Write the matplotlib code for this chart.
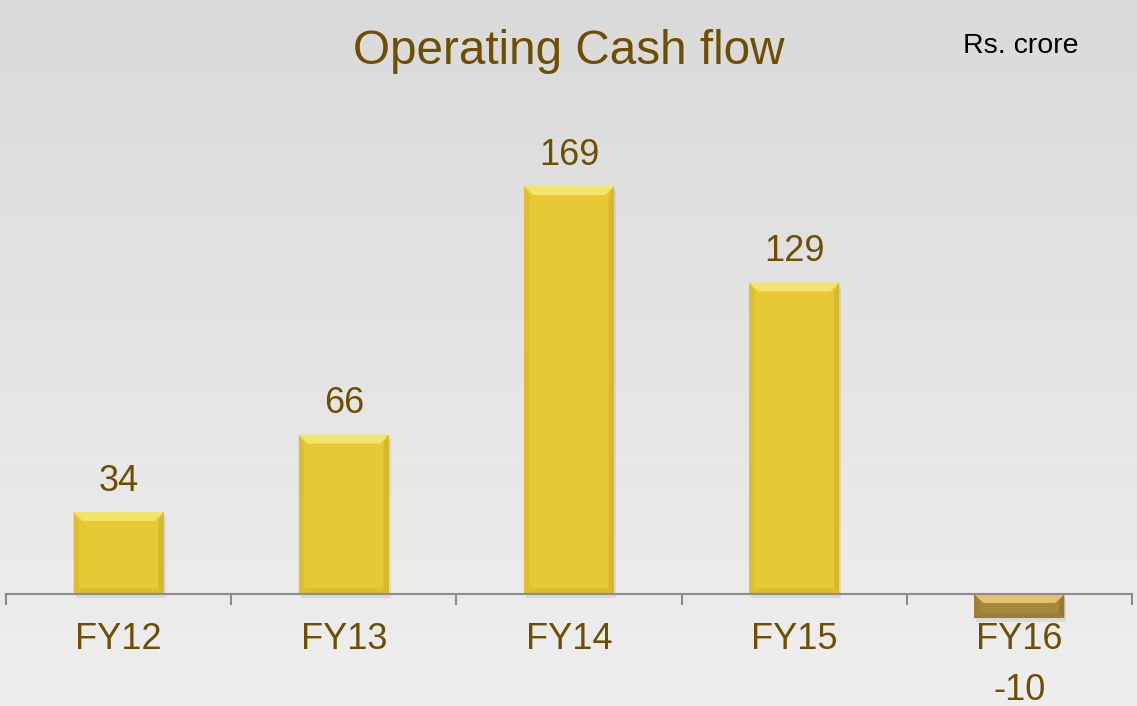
import numpy as np
import matplotlib
matplotlib.use("Agg")
import matplotlib.pyplot as plt
from matplotlib.patches import Polygon, Rectangle

categories = ["FY12", "FY13", "FY14", "FY15", "FY16"]
values = [34, 66, 169, 129, -10]
title = "Operating Cash flow"
unit = "Rs. crore"

W, H, DPI = 1137, 706, 100
fig = plt.figure(figsize=(W / DPI, H / DPI), dpi=DPI)

# background gradient
bg = fig.add_axes([0, 0, 1, 1], zorder=0)
grad = np.linspace(0, 1, 256)[:, None]
top_c = np.array([218, 218, 218]) / 255
bot_c = np.array([238, 238, 238]) / 255
img = top_c[None, None, :] * (1 - grad[:, :, None]) + bot_c[None, None, :] * grad[:, :, None]
img = np.repeat(img, 2, axis=1)
bg.imshow(img, aspect="auto", extent=[0, 1, 0, 1])
bg.axis("off")

ax_left, ax_right = 6 / W, 1132 / W
ax = fig.add_axes([ax_left, 0, ax_right - ax_left, 1], zorder=1)
ax.patch.set_alpha(0)
zero_px = 594
ppu = 408 / 169.0  # pixels per unit
ax.set_ylim(-(H - zero_px) / ppu, zero_px / ppu)
n = len(categories)
ax.set_xlim(-0.5, n - 0.5)
xpos = np.arange(n)
bw = 0.4

FONT = "Liberation Sans"
brown = "#6E4E00"

px_x = n / ((ax_right - ax_left) * W)  # data x per pixel
px_y = 1.0 / ppu

for x, v in zip(xpos, values):
    if v >= 0:
        main, light, dark, side = "#E6C935", "#F1E56E", "#C9A820", "#D4B428"
    else:
        main, light, dark, side = "#A8863C", "#E2C270", "#8A6A28", "#957532"
    x0, x1 = x - bw / 2, x + bw / 2
    yb, yt = min(0, v), max(0, v)
    # shadow
    ax.add_patch(Rectangle((x0 + 2 * px_x, yb - 4 * px_y), bw, yt - yb,
                           facecolor="black", alpha=0.07, edgecolor="none", zorder=1))
    ax.add_patch(Rectangle((x0, yb), bw, yt - yb, facecolor=main, edgecolor="none", zorder=2))
    bx, by = 9 * px_x, 9 * px_y
    # top bevel
    ax.add_patch(Polygon([(x0, yt), (x1, yt), (x1 - bx, yt - by), (x0 + bx, yt - by)],
                         closed=True, facecolor=light, edgecolor="none", zorder=3))
    # bottom bevel
    ax.add_patch(Polygon([(x0, yb), (x1, yb), (x1 - bx * 0.6, yb + by * 0.6), (x0 + bx * 0.6, yb + by * 0.6)],
                         closed=True, facecolor=dark, edgecolor="none", zorder=3, alpha=0.35))
    # side bevels
    ax.add_patch(Polygon([(x0, yb), (x0, yt), (x0 + bx * 0.6, yt - by), (x0 + bx * 0.6, yb + by * 0.6)],
                         closed=True, facecolor=side, edgecolor="none", zorder=3, alpha=0.5))
    ax.add_patch(Polygon([(x1, yb), (x1, yt), (x1 - bx * 0.6, yt - by), (x1 - bx * 0.6, yb + by * 0.6)],
                         closed=True, facecolor=side, edgecolor="none", zorder=3, alpha=0.8))
    if v >= 0:
        ax.annotate(str(v), (x, v), xytext=(0, 9.5), textcoords="offset points",
                    ha="center", va="bottom", fontsize=26, color=brown, family=FONT)
    else:
        ax.annotate(str(v), (x, v), xytext=(0, -59), textcoords="offset points",
                    ha="center", va="baseline", fontsize=26, color=brown, family=FONT)

for s in ["left", "right", "top"]:
    ax.spines[s].set_visible(False)
ax.spines["bottom"].set_position(("data", 0))
ax.spines["bottom"].set_color("#8C8C8C")
ax.spines["bottom"].set_linewidth(1.5)
ax.spines["bottom"].set_zorder(4)
ax.set_yticks([])
ax.set_xticks(xpos)
ax.set_xticklabels(categories, fontsize=26, color=brown, family=FONT)
ax.tick_params(axis="x", which="major", length=0, pad=20)
ax.set_xticks(np.arange(n + 1) - 0.5, minor=True)
ax.tick_params(axis="x", which="minor", length=8, width=1.5, color="#8C8C8C", direction="out")

fig.text(0.5, 1 - 51 / H, title, ha="center", va="center", fontsize=34.3, color=brown, family=FONT)
fig.text(1021 / W, 1 - 46 / H, unit, ha="center", va="center", fontsize=20.5, color="black", family=FONT)

fig.savefig("out.png", dpi=DPI)
